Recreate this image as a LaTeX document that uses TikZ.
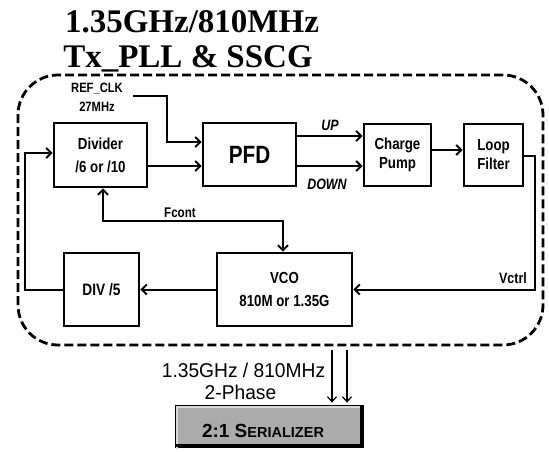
\documentclass[tikz,border=0pt]{standalone}
\usepackage{fontspec}
\setmainfont{Liberation Serif}
\newfontfamily\lblfont[FakeStretch=0.83, UprightFont={Liberation Sans Bold}, ItalicFont={Liberation Sans Bold Italic}]{Liberation Sans}
\newfontfamily\serfont[UprightFont={Liberation Sans Bold}]{Liberation Sans}
\newfontfamily\plainfont[FakeStretch=0.96]{Liberation Sans}
\usetikzlibrary{arrows.meta,calc}
\begin{document}
\begin{tikzpicture}[x=1pt,y=-1pt,
  blk/.style={draw, line width=2.8pt, inner sep=0pt, align=center,
    font=\lblfont\fontsize{16}{23}\selectfont},
  conn/.style={line width=2pt, -{Straight Barb[length=5pt,width=10pt]}},
  lab/.style={inner sep=0pt, font=\lblfont\fontsize{14}{19}\selectfont},
  ttl/.style={inner sep=0pt, anchor=base, font=\bfseries\fontsize{33}{38}\selectfont},
  outtxt/.style={inner sep=0pt, anchor=base, font=\plainfont\fontsize{20}{24}\selectfont},
  outarrow/.style={line width=1.2pt, -{Straight Barb[length=5pt,width=9pt]}}
]
\useasboundingbox[fill=white] (0,0) rectangle (549,452);

% title
\node[ttl] (t1) at (192,33) {1.35GHz/810MHz};
\node[ttl] (t2) at (188,68) {Tx\_PLL \& SSCG};

% dashed container
\node[draw, line width=2.8pt, dash pattern=on 9pt off 4pt, rounded corners=40pt,
      minimum width=525pt, minimum height=270pt] (pll) at (280.5,210) {};

% blocks
\node[blk, minimum width=93pt, minimum height=64pt] (div) at (100.5,155) {Divider\\/6 or /10};
\node[blk, minimum width=93pt, minimum height=63pt, font=\lblfont\fontsize{25}{28}\selectfont] (pfd) at (249.5,154.5) {PFD};
\node[blk, minimum width=67pt, minimum height=62pt, font=\lblfont\fontsize{16}{19}\selectfont] (cp) at (397.5,155) {Charge\\Pump};
\node[blk, minimum width=59pt, minimum height=62pt, font=\lblfont\fontsize{16}{19}\selectfont] (lf) at (493.5,155) {Loop\\Filter};
\node[blk, minimum width=75pt, minimum height=73pt, font=\lblfont\fontsize{16.5}{23}\selectfont] (div5) at (101.5,289.5) {DIV /5};
\node[blk, minimum width=135pt, minimum height=73pt] (vco) at (284.5,289.5) {VCO\\810M or 1.35G};

% labels
\node[lab, align=center, font=\lblfont\fontsize{13.5}{19}\selectfont] (ref) at (97,97.5) {REF\_CLK\\27MHz};
\node[lab, font=\lblfont\itshape\fontsize{15}{18}\selectfont] (up) at (330,125) {UP};
\node[lab, font=\lblfont\itshape\fontsize{15}{18}\selectfont] (down) at (327,184) {DOWN};
\node[lab] (fcont) at (180,213) {Fcont};
\node[lab, font=\lblfont\fontsize{15}{18}\selectfont] (vctrl) at (513,278) {Vctrl};

% coordinates for bends
\coordinate (r0) at (133,96);
\coordinate (r1) at (167,96);
\coordinate (r2) at (167,142);
\coordinate (v1) at (535,156);
\coordinate (v2) at (535,289.5);
\coordinate (l1) at (25,289.5);
\coordinate (l2) at (25,153);
\coordinate (fa) at (103,221);
\coordinate (fb) at (283,221);

% connectors
\draw[conn] (r0) -- (r1) -- (r2) -- (pfd.west |- r2);
\draw[conn] ([yshift=-11pt]div.east) -- ([yshift=-11pt]div.east -| pfd.west);
\draw[conn] ([yshift=18.5pt]pfd.east) -- ([yshift=18.5pt]pfd.east -| cp.west);
\draw[conn] ([yshift=-11.5pt]pfd.east) -- ([yshift=-11.5pt]pfd.east -| cp.west);
\draw[conn] ([yshift=5pt]cp.east) -- ([yshift=5pt]cp.east -| lf.west);
\draw[conn] (lf.east |- v1) -- (v1) -- (v2) -- (vco.east |- v2);
\draw[conn] (vco.west) -- (div5.east);
\draw[conn] (div5.west |- l1) -- (l1) -- (l2) -- (div.west |- l2);
\draw[line width=2pt, {Straight Barb[length=5pt,width=10pt]}-{Straight Barb[length=5pt,width=10pt]}]
  (div.south -| fa) -- (fa) -- (fb) -- (vco.north -| fb);

% serializer
\node[draw=black, line width=0.8pt, fill=black!33, minimum width=188pt, minimum height=42pt, inner sep=0pt] (ser) at (269,426) {};
\draw[black!15, line width=2pt] ([xshift=2pt,yshift=-2pt]ser.south west) -- ([xshift=2pt,yshift=-2pt]ser.north west) -- ([xshift=-3pt,yshift=-2pt]ser.north east);
\draw[black, line width=3.5pt] ([xshift=-1.75pt]ser.north east) -- ([xshift=-1.75pt,yshift=1.75pt]ser.south east) -- ([yshift=1.75pt]ser.south west);
\node[inner sep=0pt, anchor=base, font=\serfont] (sertxt) at (263,437)
  {\fontsize{19}{22}\selectfont 2:1 S\fontsize{14.5}{22}\selectfont ERIALIZER};

% output clocks
\coordinate (o1) at (332,0);
\coordinate (o2) at (347,0);
\draw[outarrow, shorten <=4pt, shorten >=2pt] (pll.south -| o1) -- (ser.north -| o1);
\draw[outarrow, shorten <=4pt, shorten >=2pt] (pll.south -| o2) -- (ser.north -| o2);
\node[outtxt] (f1) at (243.5,377) {1.35GHz / 810MHz};
\node[outtxt] (f2) at (240.5,399) {2-Phase};
\end{tikzpicture}
\end{document}
